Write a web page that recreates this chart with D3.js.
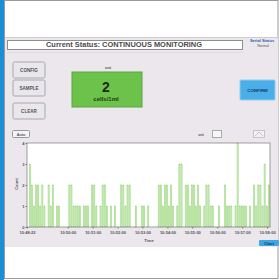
<!DOCTYPE html>
<html>
<head>
<meta charset="utf-8">
<script src="https://cdn.jsdelivr.net/npm/d3@7"></script>
<style>
  body { margin: 0; background: #fff; }
  svg { display: block; font-family: "Liberation Sans", Arial, sans-serif; }
</style>
</head>
<body>
<div id="chart"></div>
<script>
// counts per 5 s sample
var counts = [0,3,2,1,2,2,1,2,1,0, 2,1,2,0,1,1,0,0,0,0,
              2,2,1,1,1,1,0,1,1,1, 0,2,2,1,0,1,2,2,1,0,
              1,0,1,0,0,2,2,1,2,2, 0,0,1,0,0,1,1,0,1,0,
              0,0,0,2,2,1,2,2,1,2, 1,0,1,3,3,0,2,2,1,2,
              2,1,2,1,0,1,2,2,1,1, 0,0,1,0,0,2,1,1,1,0,
              1,4,1,1,1,1,0,1,0,2, 1,2,2,1,3,1,2];
var startTime = "10:48:22";
var sampleSecs = 5;
var yTicks = [0, 1, 2, 3, 4];
var minuteTicks = ["10:50:00","10:51:00","10:52:00","10:53:00","10:54:00",
                   "10:55:00","10:56:00","10:57:00","10:58:00"];
var buttons = ["CONFIG", "SAMPLE", "CLEAR"];
var statusText = "Current Status: CONTINUOUS MONITORING";

function init() {
    var w = 279, h = 280;
    var parse = d3.timeParse("%H:%M:%S");
    var fmt = d3.timeFormat("%H:%M:%S");
    var t0 = parse(startTime);
    var data = counts.map(function (c, i) {
        return { t: new Date(t0.getTime() + i * sampleSecs * 1000), v: c };
    });
    var tEnd = new Date(t0.getTime() + counts.length * sampleSecs * 1000);

    var svg = d3.select("#chart").append("svg")
        .attr("width", w).attr("height", h);

    // frame
    svg.append("rect").attr("x", 0).attr("y", 0).attr("width", w).attr("height", h)
        .attr("fill", "#fff");
    svg.append("rect").attr("x", 4.5).attr("y", 0.5).attr("width", w - 5.5).attr("height", h - 2)
        .attr("fill", "none").attr("stroke", "#9a9a9a");
    svg.append("rect").attr("x", 0).attr("y", 0).attr("width", 4).attr("height", h)
        .attr("fill", "#1a8fd6");

    // panel
    svg.append("rect").attr("x", 5).attr("y", 37).attr("width", w - 6).attr("height", 210)
        .attr("fill", "#ebe7ec");
    svg.append("line").attr("x1", 5).attr("x2", w - 1).attr("y1", 37.5).attr("y2", 37.5)
        .attr("stroke", "#cfcbd0");

    // status bar
    svg.append("rect").attr("x", 7.5).attr("y", 40.5).attr("width", 235).attr("height", 9)
        .attr("fill", "#fff").attr("stroke", "#8e8e8e");
    svg.append("text").attr("x", 124).attr("y", 47.4).attr("text-anchor", "middle")
        .attr("font-size", 6.6).attr("font-weight", "bold").attr("fill", "#4a4a4a")
        .attr("textLength", 156).attr("lengthAdjust", "spacingAndGlyphs")
        .text(statusText);
    svg.append("text").attr("x", 262).attr("y", 42).attr("text-anchor", "middle")
        .attr("font-size", 4).attr("font-weight", "bold").attr("fill", "#2a5ea8").text("Serial Status");
    svg.append("text").attr("x", 263).attr("y", 47).attr("text-anchor", "middle")
        .attr("font-size", 3.6).attr("fill", "#555").text("Normal");
    svg.append("line").attr("x1", 7).attr("x2", 243).attr("y1", 52.5).attr("y2", 52.5)
        .attr("stroke", "#dedade");

    // side buttons
    var btnY = [62, 80, 103];
    var btn = svg.selectAll("g.btn").data(buttons).enter().append("g")
        .attr("transform", function (d, i) { return "translate(13," + btnY[i] + ")"; });
    btn.append("rect").attr("width", 32).attr("height", 16).attr("rx", 1.5)
        .attr("fill", "#e9e7eb").attr("stroke", "#a9a7ab");
    btn.append("text").attr("x", 16).attr("y", 10).attr("text-anchor", "middle")
        .attr("font-size", 4.6).attr("font-weight", "bold").attr("fill", "#555")
        .text(function (d) { return d; });

    // count display
    svg.append("text").attr("x", 108).attr("y", 69).attr("text-anchor", "middle")
        .attr("font-size", 4).attr("font-weight", "bold").attr("fill", "#555").text("cnt");
    svg.append("rect").attr("x", 72).attr("y", 72).attr("width", 70).attr("height", 35)
        .attr("fill", "#6cc24a").attr("stroke", "#5aa83d");
    svg.append("text").attr("x", 106).attr("y", 92).attr("text-anchor", "middle")
        .attr("font-size", 14).attr("font-weight", "bold").attr("fill", "#1a2a12")
        .text(counts[counts.length - 1]);
    svg.append("text").attr("x", 106).attr("y", 100.5).attr("text-anchor", "middle")
        .attr("font-size", 6).attr("font-weight", "bold").attr("fill", "#1f3a14").text("cells/1ml");

    // confirm button
    svg.append("rect").attr("x", 240).attr("y", 80).attr("width", 35).attr("height", 20).attr("rx", 1)
        .attr("fill", "#4aaee8").attr("stroke", "#8fcdf0");
    svg.append("text").attr("x", 257.5).attr("y", 92).attr("text-anchor", "middle")
        .attr("font-size", 4.4).attr("font-weight", "bold").attr("fill", "#123c6a").text("CONFIRM");

    // chart toolbar
    svg.append("rect").attr("x", 12.5).attr("y", 130.5).attr("width", 17).attr("height", 7).attr("rx", 1)
        .attr("fill", "#f4f3f5").attr("stroke", "#999");
    svg.append("text").attr("x", 21).attr("y", 135.5).attr("text-anchor", "middle")
        .attr("font-size", 3.8).attr("font-weight", "bold").attr("fill", "#555").text("Auto");
    svg.append("text").attr("x", 201).attr("y", 136).attr("text-anchor", "middle")
        .attr("font-size", 3.8).attr("font-weight", "bold").attr("fill", "#555").text("cnt");
    svg.append("rect").attr("x", 212.5).attr("y", 130.5).attr("width", 9).attr("height", 7)
        .attr("fill", "#f7f7f8").attr("stroke", "#aaa");
    svg.append("rect").attr("x", 253.5).attr("y", 130.5).attr("width", 11).attr("height", 7)
        .attr("fill", "#f1f0f2").attr("stroke", "#c6c4c8");
    svg.append("path").attr("d", "M255,136 L259,132 L263,136")
        .attr("fill", "none").attr("stroke", "#aaa").attr("stroke-width", 0.6);

    // plot
    var left = 27, right = 270, top = 143, bottom = 227;
    var x = d3.scaleTime().domain([t0, tEnd]).range([left, right]);
    var y = d3.scaleLinear().domain([0, 4]).range([bottom, top]);

    svg.append("rect").attr("x", left).attr("y", top).attr("width", right - left)
        .attr("height", bottom - top).attr("fill", "#fff");

    svg.append("g").selectAll("rect").data(data).enter().append("rect")
        .attr("x", function (d) { return x(d.t) + 0.3; })
        .attr("y", function (d) { return y(d.v); })
        .attr("width", function (d) {
            return Math.max(0.5, x(new Date(d.t.getTime() + sampleSecs * 1000)) - x(d.t) - 1);
        })
        .attr("height", function (d) { return bottom - y(d.v); })
        .attr("fill", "#dcf2cf").attr("stroke", "#7dcc58").attr("stroke-width", 0.45);

    svg.append("rect").attr("x", left).attr("y", top).attr("width", right - left)
        .attr("height", bottom - top).attr("fill", "none").attr("stroke", "#888").attr("stroke-width", 0.8);

    var yAxis = svg.append("g").attr("transform", "translate(" + left + ",0)")
        .call(d3.axisLeft(y).tickValues(yTicks).tickSize(1.5).tickFormat(d3.format("d")));
    var xTickVals = [t0].concat(minuteTicks.map(parse));
    var xAxis = svg.append("g").attr("transform", "translate(0," + bottom + ")")
        .call(d3.axisBottom(x).tickValues(xTickVals).tickSize(1.5).tickFormat(fmt));
    [xAxis, yAxis].forEach(function (a) {
        a.select(".domain").remove();
        a.selectAll("line").attr("stroke", "#777");
        a.selectAll("text").attr("font-size", 4).attr("font-weight", "bold").attr("fill", "#555")
            .attr("font-family", "Liberation Sans, Arial, sans-serif");
    });
    yAxis.selectAll("text").attr("x", -2.5);
    xAxis.selectAll("text").attr("y", 4);

    svg.append("text").attr("transform", "translate(18,184) rotate(-90)")
        .attr("text-anchor", "middle").attr("font-size", 4).attr("font-weight", "bold")
        .attr("fill", "#555").text("Count");
    svg.append("text").attr("x", 149).attr("y", 241.5).attr("text-anchor", "middle")
        .attr("font-size", 4).attr("font-weight", "bold").attr("fill", "#555").text("Time");

    // bottom right button
    svg.append("rect").attr("x", 259).attr("y", 240).attr("width", 20).attr("height", 6).attr("rx", 1)
        .attr("fill", "#3fa6e2");
    svg.append("text").attr("x", 269).attr("y", 244.5).attr("text-anchor", "middle")
        .attr("font-size", 3.8).attr("font-weight", "bold").attr("fill", "#0f3a66").text("Chart");
}

window.onload = init;
</script>
</body>
</html>
